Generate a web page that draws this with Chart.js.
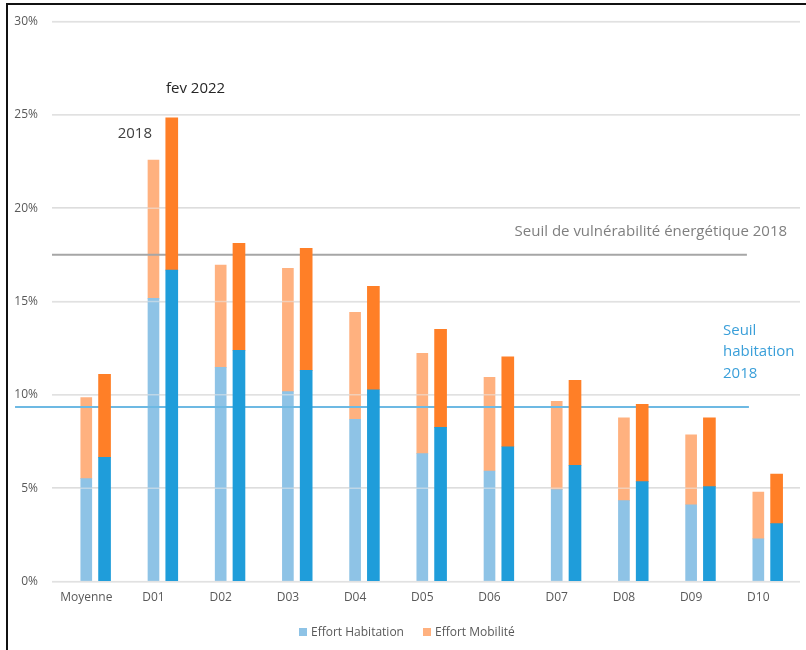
<!DOCTYPE html>
<html lang="fr">
<head>
<meta charset="utf-8">
<title>Effort énergétique par décile</title>
<script src="https://cdn.jsdelivr.net/npm/chart.js@4.4.1/dist/chart.umd.min.js"></script>
<style>
  html, body { margin: 0; padding: 0; background: #ffffff; overflow: hidden; }
  #wrap { position: relative; width: 806px; height: 650px; }
  #chart { display: block; }
  .frame { position: absolute; left: 6px; top: 3px; right: -10px; bottom: -10px;
           border-top: 2px solid #111; border-left: 2px solid #111; pointer-events: none; }
  #legend { position: absolute; left: 299px; top: 623px; display: flex; align-items: center;
            font: 12px "Open Sans", sans-serif; color: #595959; white-space: nowrap; }
  #legend .item { display: flex; align-items: center; margin-right: 19px; }
  #legend .box { width: 8px; height: 8px; margin-right: 4px; }
</style>
</head>
<body>
<div id="wrap">
  <canvas id="chart" width="806" height="650"></canvas>
  <div class="frame"></div>
  <div id="legend"></div>
</div>
<script>
// Déciles de revenu
const categories = ['Moyenne', 'D01', 'D02', 'D03', 'D04', 'D05', 'D06', 'D07', 'D08', 'D09', 'D10'];

// Effort énergétique (% du revenu) — 2018
const habitation2018 = [5.51, 15.17, 11.47, 10.17, 8.69, 6.85, 5.92, 4.92, 4.33, 4.11, 2.28];
const mobilite2018   = [4.34,  7.41,  5.48,  6.61, 5.73, 5.37, 5.02, 4.73, 4.44, 3.75, 2.51];

// Effort énergétique (% du revenu) — février 2022
const habitation2022 = [6.65, 16.68, 12.38, 11.31, 10.27, 8.26, 7.22, 6.22, 5.35, 5.08, 3.10];
const mobilite2022   = [4.45,  8.16,  5.73,  6.54,  5.54, 5.25, 4.82, 4.56, 4.14, 3.69, 2.66];

// Seuils 2018 (% du revenu)
const seuilVulnerabilite = 17.5;
const seuilHabitation = 9.35;

// Graduations de l'axe vertical
const yTickValues = [0, 5, 10, 15, 20, 25, 30];

const COLORS = {
  hab2018: '#8EC3E6',
  mob2018: '#FFB17F',
  hab2022: '#1F9DDA',
  mob2022: '#FF7F27'
};

// décalage horizontal de la barre 2022 par rapport à celle de 2018 (en unités de catégorie)
const OFFSET_2022 = 0.272;
const X_MIN = -0.51, X_MAX = 10.62;

const pts = (values, shift) => values.map((v, i) => ({ x: i + shift, y: v }));

const FONT = '"Open Sans", sans-serif';

// Lignes de seuil (positions exprimées en unités des axes)
const refLines = [
  { value: seuilVulnerabilite, from: X_MIN, to: 9.83, color: '#A6A6A6', width: 2 },
  { value: seuilHabitation, from: -1.06, to: 9.86, color: '#6DB9E3', width: 2 }
];

// Textes d'annotation (positions en unités des axes)
const notes = [
  { lines: ['fev 2022'], x: 1.186, y: 26.15, align: 'left', color: '#262626' },
  { lines: ['2018'], x: 0.467, y: 23.74, align: 'left', color: '#404040' },
  { lines: ['Seuil de vulnérabilité énergétique 2018'], x: 10.427, y: 18.51, align: 'right', color: '#7F7F7F' },
  { lines: ['Seuil', 'habitation', '2018'], x: 9.474, y: 13.21, align: 'left', color: '#3A9FD9', lineHeight: 21.5 }
];

// Grille et seuils redessinés entre les barres 2018 et celles de 2022
const overlayPlugin = {
  id: 'overlay',
  beforeDatasetsDraw(chart) { chart.$overlayDone = false; },
  beforeDatasetDraw(chart, args) {
    const ds = chart.data.datasets[args.index];
    if (chart.$overlayDone || ds.stack !== 'fev2022') return;
    chart.$overlayDone = true;
    const { ctx, chartArea, scales: { x, y } } = chart;
    ctx.save();
    ctx.strokeStyle = 'rgba(232,232,232,0.55)';
    ctx.lineWidth = 1.5;
    yTickValues.forEach(v => {
      const py = y.getPixelForValue(v);
      ctx.beginPath();
      ctx.moveTo(chartArea.left, py);
      ctx.lineTo(chartArea.right, py);
      ctx.stroke();
    });
    refLines.forEach(l => {
      const py = y.getPixelForValue(l.value);
      ctx.strokeStyle = l.color;
      ctx.lineWidth = l.width;
      ctx.beginPath();
      ctx.moveTo(x.getPixelForValue(l.from), py);
      ctx.lineTo(x.getPixelForValue(l.to), py);
      ctx.stroke();
    });
    ctx.restore();
  },
  afterDatasetsDraw(chart) {
    const { ctx, scales: { x, y } } = chart;
    ctx.save();
    ctx.font = '15px ' + FONT;
    ctx.textBaseline = 'alphabetic';
    notes.forEach(n => {
      ctx.fillStyle = n.color;
      ctx.textAlign = n.align;
      const px = x.getPixelForValue(n.x);
      const py = y.getPixelForValue(n.y);
      n.lines.forEach((t, k) => ctx.fillText(t, px, py + k * (n.lineHeight || 0)));
    });
    ctx.restore();
  }
};

const chart = new Chart(document.getElementById('chart'), {
  type: 'bar',
  data: {
    datasets: [
      { label: 'Effort Habitation', data: pts(habitation2018, 0), backgroundColor: COLORS.hab2018,
        stack: '2018', order: 2, barThickness: 11 },
      { label: 'Effort Mobilité', data: pts(mobilite2018, 0), backgroundColor: COLORS.mob2018,
        stack: '2018', order: 2, barThickness: 11 },
      { label: 'Effort Habitation fev 2022', data: pts(habitation2022, OFFSET_2022), backgroundColor: COLORS.hab2022,
        stack: 'fev2022', order: 1, barThickness: 12 },
      { label: 'Effort Mobilité fev 2022', data: pts(mobilite2022, OFFSET_2022), backgroundColor: COLORS.mob2022,
        stack: 'fev2022', order: 1, barThickness: 12 }
    ]
  },
  options: {
    responsive: false,
    animation: false,
    layout: { padding: { top: 21.5, right: 6, bottom: 38.5, left: 0 } },
    datasets: { bar: { grouped: false } },
    plugins: {
      legend: { display: false },
      tooltip: { enabled: false }
    },
    scales: {
      x: {
        type: 'linear',
        min: X_MIN,
        max: X_MAX,
        offset: false,
        stacked: true,
        grid: { display: false, drawTicks: false, offset: false },
        border: { display: false },
        afterBuildTicks: s => { s.ticks = categories.map((_, i) => ({ value: i })); },
        afterFit: s => { s.height = 30; },
        ticks: {
          autoSkip: false,
          maxRotation: 0,
          padding: 9,
          color: '#595959',
          font: { family: FONT, size: 12 },
          callback: v => categories[Math.round(v)] ?? ''
        }
      },
      y: {
        min: 0,
        max: 30,
        stacked: true,
        afterBuildTicks: s => { s.ticks = yTickValues.map(v => ({ value: v })); },
        afterFit: s => { s.width = 52; },
        grid: { color: '#DADADA', lineWidth: 1.5, drawTicks: false },
        border: { display: false },
        ticks: {
          padding: 14,
          color: '#595959',
          font: { family: FONT, size: 12 },
          callback: v => v + '%'
        }
      }
    }
  },
  plugins: [overlayPlugin]
});

// Légende : séries 2018
const legendEl = document.getElementById('legend');
chart.data.datasets.filter(d => d.stack === '2018').forEach(d => {
  const item = document.createElement('div');
  item.className = 'item';
  const box = document.createElement('span');
  box.className = 'box';
  box.style.background = d.backgroundColor;
  const label = document.createElement('span');
  label.textContent = d.label;
  item.appendChild(box);
  item.appendChild(label);
  legendEl.appendChild(item);
});
</script>
</body>
</html>
